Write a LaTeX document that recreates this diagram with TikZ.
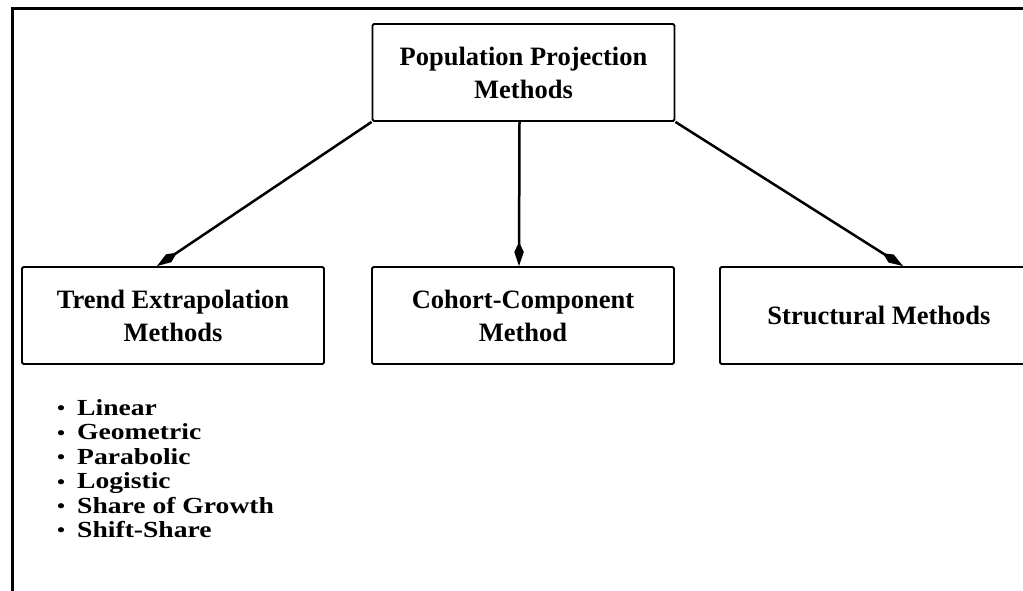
\documentclass[tikz,border=0pt]{standalone}
\usepackage{fontspec}
\setmainfont{Liberation Serif}
\newfontfamily\listfont[FakeStretch=1.2]{Liberation Serif}
\usetikzlibrary{arrows.meta}
\begin{document}
\begin{tikzpicture}[x=1pt,y=-1pt,
  box/.style={draw, line width=1.9pt, rounded corners=1.5pt,
    minimum width=302pt, minimum height=97pt, inner sep=0pt,
    align=center, font=\fontsize{26.5}{33}\selectfont\bfseries},
  link/.style={line width=2.5pt, -{Kite[length=24pt,width=9.5pt,inset=10pt]}},
  entry/.style={anchor=base west, inner sep=0pt,
    font=\listfont\fontsize{23}{24}\selectfont\bfseries}]
  \useasboundingbox (0,0) rectangle (1023,591);
  \clip (0,0) rectangle (1023,591);

  % outer frame
  \draw[line width=3pt] (12,610) -- (12,9) -- (1040,9);

  % boxes
  \node[box] (top) at (523.5,72.5) {Population Projection\\Methods};
  \node[box] (trend) at (173,315.5) {Trend Extrapolation\\Methods};
  \node[box] (cohort) at (523,315.5) {Cohort-Component\\Method};
  \node[box, minimum width=318pt] (struct) at (879,315.5) {Structural Methods};

  % connectors
  \draw[link] (top.south west) -- ([xshift=-16pt]trend.north);
  \draw[link] ([xshift=-4pt]top.south) -- ([xshift=-4pt]cohort.north);
  \draw[link] (top.south east) -- ([xshift=24pt]struct.north);

  % list of trend methods
  \foreach \t [count=\i] in {Linear, Geometric, Parabolic, Logistic, Share of Growth, Shift-Share}
    \node[entry] (item\i) at (57, 391+24.4*\i)
      {\makebox[20pt][l]{\raisebox{0.5pt}{\fontsize{19}{19}\selectfont\textbullet}}\t};
\end{tikzpicture}
\end{document}
